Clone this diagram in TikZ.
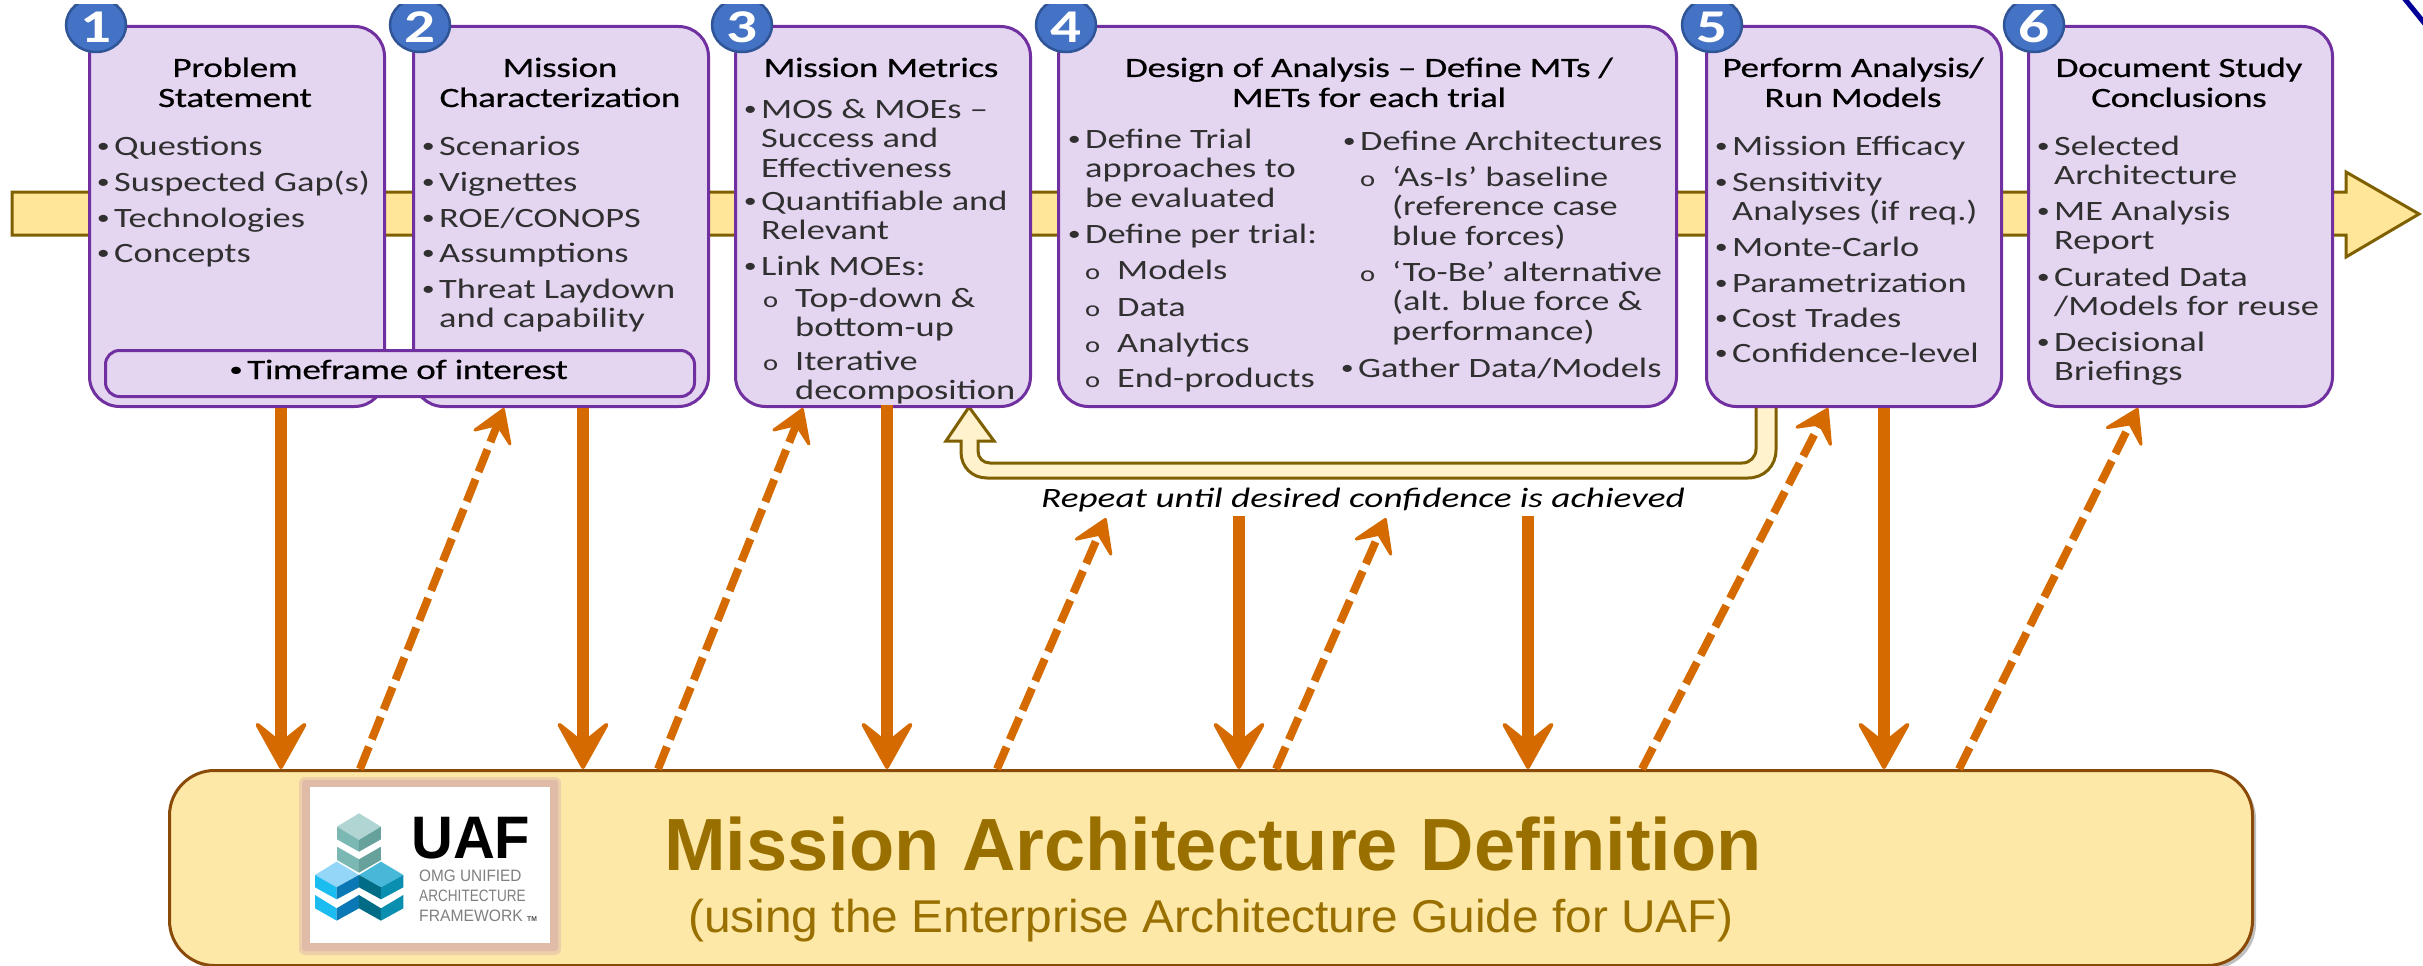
\documentclass[tikz,border=0pt]{standalone}
\usepackage{fontspec}
\usepackage{graphicx}
\usetikzlibrary{arrows.meta,shapes.geometric}
\setmainfont[FakeStretch=1.3]{Carlito}
\newfontfamily\ttlfont[FakeStretch=1.33,FakeBold=0.5,LetterSpace=-1.5]{Carlito}
\newfontfamily\numfont[FakeStretch=1.3]{Carlito}
\newfontfamily\repfont[FakeStretch=1.33]{Carlito}
\newfontfamily\arialfont{Liberation Sans}
\newfontfamily\subfont[FakeStretch=1.04]{Liberation Sans}
\newfontfamily\logofont[FakeStretch=0.966]{Liberation Sans}
\definecolor{boxfill}{HTML}{E4D5F1}
\definecolor{boxline}{HTML}{7030A0}
\definecolor{spinefill}{HTML}{FFE699}
\definecolor{olive}{HTML}{7F6000}
\definecolor{loopfill}{HTML}{FFF2CC}
\definecolor{flow}{HTML}{D56B00}
\definecolor{basefill}{HTML}{FEE8A8}
\definecolor{baseline}{HTML}{8A4B08}
\definecolor{basetext}{HTML}{997000}
\definecolor{txt}{HTML}{303030}
\definecolor{numfill}{HTML}{4472C4}
\definecolor{numline}{HTML}{2F5597}
\definecolor{halo}{HTML}{E0BBA8}
\tikzset{
  stepbox/.style={draw=boxline,fill=boxfill,line width=3pt,rounded corners=30pt,anchor=north west,inner sep=0pt},
  badge/.style={ellipse,draw=numline,fill=numfill,line width=2.5pt,minimum width=60pt,minimum height=54pt,inner sep=0pt},
  itemtxt/.style={anchor=base west,inner sep=0pt,text=txt,font=\fontsize{28}{29.5}\selectfont},
  ttltxt/.style={anchor=base,inner sep=0pt,text=black,font=\ttlfont\fontsize{28}{30}\selectfont},
  numtxt/.style={anchor=base,inner sep=0pt,text=white,font=\numfont\bfseries\fontsize{47}{47}\selectfont},
  flowsolid/.style={draw=flow,line width=12pt,-{Stealth[length=54pt,width=60pt,inset=24pt,round,line width=4pt]}},
  flowdash/.style={draw=flow,line width=8pt,dash pattern=on 24pt off 8pt,-{Stealth[length=38pt,width=48pt,inset=17pt,round,line width=3pt]}},
  logogrey/.style={anchor=base west,inner sep=0pt,text=black!50,font=\arialfont\fontsize{16.5}{16.5}\selectfont}
}
\newcommand{\bul}{\llap{\raisebox{3pt}{\fontsize{20}{20}\selectfont •}\hspace{4.5pt}}}
\newcommand{\sbul}{\llap{{\fontsize{22}{22}\selectfont o}\hspace{17pt}}}
\newcommand{\itm}[4]{\node[itemtxt] (#1) at (#2,#3) {\bul\begin{tabular}[t]{@{}l@{}}#4\end{tabular}};}
\newcommand{\sitm}[4]{\node[itemtxt] (#1) at (#2,#3) {\sbul\begin{tabular}[t]{@{}l@{}}#4\end{tabular}};}
\newcommand{\ttl}[4]{\node[ttltxt] (#1) at (#2,#3) {\begin{tabular}[t]{@{}c@{}}#4\end{tabular}};}
\newcommand{\badgeat}[3]{\node[badge] (c#1) at (#2,25) {}; \node[numtxt] (n#1) at (#2,43) {#3};}
\newcommand{\fc}[2]{\fill[#1] #2 -- cycle;}
\begin{document}
\begin{tikzpicture}[x=1pt,y=-1pt]
\useasboundingbox (0,0) rectangle (2423,966);
% corner line
\draw[draw=blue!60!black,line width=5pt] (2404,-2) -- (2425,24);
% spine arrow
\draw[draw=olive,fill=spinefill,line width=3pt,line join=miter]
  (12,192) -- (2346,192) -- (2346,172) -- (2419,214) -- (2346,257) -- (2346,235) -- (12,235) -- cycle;
% repeat loop
\draw[draw=olive,fill=loopfill,line width=3pt]
  (1756,400) -- (1756,449) .. controls (1756,457) and (1750,463) .. (1742,463)
  -- (990,463) .. controls (983,463) and (978,458) .. (978,451) -- (978,441)
  -- (994,441) -- (969,407) -- (946,441) -- (961,441) -- (961,452)
  .. controls (961,467) and (972,478) .. (987,478) -- (1748,478)
  .. controls (1764,478) and (1776,466) .. (1776,450) -- (1776,400) -- cycle;
% step boxes
\node[stepbox,minimum width=295pt,minimum height=380pt] (b1) at (88,25) {};
\node[stepbox,minimum width=295pt,minimum height=380pt] (b2) at (412,25) {};
\node[stepbox,minimum width=295pt,minimum height=380pt] (b3) at (734,25) {};
\node[stepbox,minimum width=618pt,minimum height=380pt] (b4) at (1057,25) {};
\node[stepbox,minimum width=295pt,minimum height=380pt] (b5) at (1705,25) {};
\node[stepbox,minimum width=304pt,minimum height=380pt] (b6) at (2027,25) {};
\node[stepbox,rounded corners=14pt,minimum width=589pt,minimum height=46pt] (tf) at (104,349) {};
% badges
\begin{scope}
\clip (0,5) rectangle (2423,966);
\badgeat{1}{96}{1}
\badgeat{2}{420}{2}
\badgeat{3}{742}{3}
\badgeat{4}{1066}{4}
\badgeat{5}{1712}{5}
\badgeat{6}{2034}{6}
\end{scope}
% base box
\fill[black!25,rounded corners=45pt] (173,774) rectangle (2256,969);
\node[draw=baseline,fill=basefill,line width=3pt,rounded corners=45pt,anchor=north west,inner sep=0pt,minimum width=2083pt,minimum height=195pt] (uaf) at (168,769) {};
% connectors
\coordinate (s1) at (281,0); \coordinate (s2) at (583,0); \coordinate (s3) at (887,0);
\coordinate (s6) at (1884,0);
\draw[flowsolid] (s1 |- b1.south) -- (s1 |- uaf.north);
\draw[flowsolid] (s2 |- b2.south) -- (s2 |- uaf.north);
\draw[flowsolid] ([yshift=3pt]s3 |- b3.south) -- (s3 |- uaf.north);
\draw[flowsolid] (s6 |- b5.south) -- (s6 |- uaf.north);
\coordinate (s4) at (1239,516); \coordinate (s5) at (1528,516);
\draw[flowsolid] (s4) -- (s4 |- uaf.north);
\draw[flowsolid] (s5) -- (s5 |- uaf.north);
\coordinate (d1a) at (360,0); \coordinate (d1b) at (504,0);
\coordinate (d2a) at (658,0); \coordinate (d2b) at (803,0);
\coordinate (d3a) at (997,0); \coordinate (d3b) at (1106,518);
\coordinate (d4a) at (1276,0); \coordinate (d4b) at (1386,518);
\coordinate (d5a) at (1642,0); \coordinate (d5b) at (1828,0);
\coordinate (d6a) at (1959,0); \coordinate (d6b) at (2138,0);
\draw[flowdash] (d1a |- uaf.north) -- (d1b |- b2.south);
\draw[flowdash] (d2a |- uaf.north) -- (d2b |- b3.south);
\draw[flowdash] (d3a |- uaf.north) -- (d3b);
\draw[flowdash] (d4a |- uaf.north) -- (d4b);
\draw[flowdash] (d5a |- uaf.north) -- (d5b |- b5.south);
\draw[flowdash] (d6a |- uaf.north) -- (d6b |- b6.south);
% titles
\ttl{t1}{235}{77}{Problem\\Statement}
\ttl{t2}{560}{77}{Mission\\Characterization}
\ttl{t3}{881}{77}{Mission Metrics}
\ttl{t4}{1369}{77}{Design of Analysis – Define MTs /\\METs for each trial}
\ttl{t5}{1853}{77}{Perform Analysis/\\Run Models}
\ttl{t6}{2179}{77}{Document Study\\Conclusions}
% box 1
\itm{i11}{114}{155}{Questions}
\itm{i12}{114}{191}{Suspected Gap(s)}
\itm{i13}{114}{227}{Technologies}
\itm{i14}{114}{262}{Concepts}
% box 2
\itm{i21}{439}{155}{Scenarios}
\itm{i22}{439}{191}{Vignettes}
\itm{i23}{439}{227}{ROE/CONOPS}
\itm{i24}{439}{262}{Assumptions}
\itm{i25}{439}{298}{Threat Laydown\\and capability}
% timeframe
\node[anchor=base west,inner sep=0pt,text=black,font=\ttlfont\fontsize{28}{30}\selectfont] (tft) at (247,379) {\bul Timeframe of interest};
% box 3
\itm{i31}{761}{118}{MOS \& MOEs –\\Success and\\Effectiveness}
\itm{i32}{761}{210}{Quantifiable and\\Relevant}
\itm{i33}{761}{275}{Link MOEs:}
\sitm{i34}{795}{307}{Top-down \&\\bottom-up}
\sitm{i35}{795}{370}{Iterative\\decomposition}
% box 4
\itm{i41}{1085}{148}{Define Trial\\approaches to\\be evaluated}
\itm{i42}{1085}{243}{Define per trial:}
\sitm{i43}{1117}{279}{Models}
\sitm{i44}{1117}{316}{Data}
\sitm{i45}{1117}{352}{Analytics}
\sitm{i46}{1117}{387}{End-products}
\itm{i47}{1360}{150}{Define Architectures}
\sitm{i48}{1392}{186}{‘As-Is’ baseline\\(reference case\\blue forces)}
\sitm{i49}{1392}{281}{‘To-Be’ alternative\\(alt. blue force \&\\performance)}
\itm{i40}{1358}{377}{Gather Data/Models}
% box 5
\itm{i51}{1732}{155}{Mission Efficacy}
\itm{i52}{1732}{191}{Sensitivity\\Analyses (if req.)}
\itm{i53}{1732}{256}{Monte-Carlo}
\itm{i54}{1732}{292}{Parametrization}
\itm{i55}{1732}{327}{Cost Trades}
\itm{i56}{1732}{362}{Confidence-level}
% box 6
\itm{i61}{2054}{155}{Selected\\Architecture}
\itm{i62}{2054}{220}{ME Analysis\\Report}
\itm{i63}{2054}{286}{Curated Data\\/Models for reuse}
\itm{i64}{2054}{351}{Decisional\\Briefings}
% loop label
\node[anchor=base west,inner sep=0pt,text=black,font=\repfont\itshape\fontsize{28}{29}\selectfont] (rep) at (1041,507) {Repeat until desired confidence is achieved};
% base text
\node[anchor=base west,inner sep=0pt,text=basetext,font=\arialfont\bfseries\fontsize{74}{74}\selectfont] (bt1) at (664,870) {Mission\hspace{2pt} Architecture\hspace{2pt} Definition};
\node[anchor=base west,inner sep=0pt,text=basetext,font=\subfont\fontsize{46}{46}\selectfont] (bt2) at (688,932) {(using the Enterprise Architecture Guide for UAF)};
% logo
\fill[halo!55!basefill,rounded corners=6pt] (299,777) rectangle (561,955);
\fill[halo,rounded corners=3pt] (302,780) rectangle (558,951);
\fill[white] (310,787) rectangle (550,943);
\begin{scope}[shift={(300,780)},x=0.3333pt,y=-0.3333pt]
\fc{fill={rgb,255:red,176;green,213;blue,210}}{(177,100) -- (243,140) -- (177,180) -- (111,140)}
\fc{fill={rgb,255:red,123;green,184;blue,179}}{(111,140) -- (177,180) -- (177,215) -- (111,178)}
\fc{fill={rgb,255:red,102;green,161;blue,156}}{(177,180) -- (243,140) -- (243,178) -- (177,215)}
\fc{fill={rgb,255:red,123;green,184;blue,179}}{(111,200) -- (177,238) -- (177,278) -- (111,240)}
\fc{fill={rgb,255:red,102;green,161;blue,156}}{(177,238) -- (243,200) -- (243,240) -- (177,278)}
\fc{fill={rgb,255:red,147;green,214;blue,248}}{(45,285) -- (110,245) -- (177,285) -- (110,322)}
\fc{fill={rgb,255:red,27;green,188;blue,240}}{(45,285) -- (110,322) -- (110,358) -- (45,322)}
\fc{fill={rgb,255:red,10;green,120;blue,181}}{(110,322) -- (177,285) -- (177,322) -- (110,358)}
\fc{fill={rgb,255:red,71;green,184;blue,216}}{(177,285) -- (243,245) -- (310,285) -- (243,322)}
\fc{fill={rgb,255:red,0;green,108;blue,134}}{(177,285) -- (243,322) -- (243,358) -- (177,322)}
\fc{fill={rgb,255:red,10;green,143;blue,176}}{(243,322) -- (310,285) -- (310,322) -- (243,358)}
\fc{fill={rgb,255:red,27;green,188;blue,240}}{(45,345) -- (110,385) -- (110,422) -- (45,385)}
\fc{fill={rgb,255:red,10;green,120;blue,181}}{(110,385) -- (177,345) -- (177,385) -- (110,422)}
\fc{fill={rgb,255:red,0;green,108;blue,134}}{(177,345) -- (243,385) -- (243,422) -- (177,385)}
\fc{fill={rgb,255:red,10;green,143;blue,176}}{(243,385) -- (310,345) -- (310,385) -- (243,422)}
\end{scope}
\node[anchor=base west,inner sep=0pt,text=black,font=\logofont\bfseries\fontsize{60}{60}\selectfont] (lg1) at (411,858) {UAF};
\node[logogrey] (lg2) at (419,881) {\scalebox{0.93}[1]{OMG UNIFIED}};
\node[logogrey] (lg3) at (419,901) {\scalebox{0.824}[1]{ARCHITECTURE}};
\node[logogrey] (lg4) at (419,921) {\scalebox{0.95}[1]{FRAMEWORK}};
\node[anchor=base west,inner sep=0pt,text=black!70,font=\logofont\bfseries\fontsize{7}{7}\selectfont] (lg5) at (527,921) {TM};
\end{tikzpicture}
\end{document}
